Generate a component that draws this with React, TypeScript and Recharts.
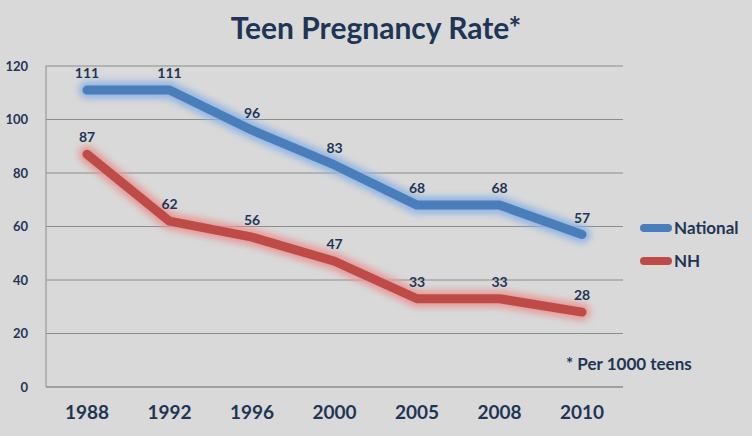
import React from 'react'
import { LineChart, Line, XAxis, YAxis, CartesianGrid, LabelList } from 'recharts'

const YEARS = ['1988', '1992', '1996', '2000', '2005', '2008', '2010']
const NATIONAL = [111, 111, 96, 83, 68, 68, 57]
const NH = [87, 62, 56, 47, 33, 33, 28]
const Y_TICKS = [0, 20, 40, 60, 80, 100, 120]

const data = YEARS.map((year, i) => ({ year, national: NATIONAL[i], nh: NH[i] }))

const FONT = 'Lato, "Open Sans", sans-serif'
const NAVY = '#1f3556'
const BLUE = '#4a7ebb'
const RED = '#be4b48'

function LegendItem({ color, label }: { color: string; label: string }) {
  return (
    <div style={{ display: 'flex', alignItems: 'center', height: 33 }}>
      <div style={{ width: 32, height: 8, borderRadius: 4, background: color, marginRight: 2 }} />
      <span style={{ fontSize: 17, fontWeight: 700, color: NAVY }}>{label}</span>
    </div>
  )
}

export default function App() {
  return (
    <div style={{ position: 'relative', width: 752, height: 436, background: '#d9d9d9', fontFamily: FONT }}>
      <style>{'body{margin:0}'}</style>
      <div
        style={{
          position: 'absolute',
          top: 9,
          width: 752,
          textAlign: 'center',
          fontSize: 30,
          fontWeight: 700,
          color: NAVY,
        }}
      >
        Teen Pregnancy Rate*
      </div>
      <LineChart width={752} height={436} data={data} margin={{ top: 66, right: 129, bottom: 19, left: 6 }}>
        <defs>
          <filter id="glow" x="-20%" y="-50%" width="140%" height="200%">
            <feGaussianBlur stdDeviation="3.5" />
          </filter>
        </defs>
        <CartesianGrid vertical={false} stroke="#8c8c8c" />
        <XAxis
          dataKey="year"
          height={30}
          padding={{ left: 41, right: 41 }}
          axisLine={{ stroke: '#8c8c8c' }}
          tickLine={false}
          tickMargin={13}
          tick={{ fill: NAVY, fontSize: 19, fontWeight: 700, fontFamily: FONT }}
        />
        <YAxis
          width={40}
          domain={[0, 120]}
          ticks={Y_TICKS}
          axisLine={{ stroke: '#8c8c8c' }}
          tickLine={false}
          tickMargin={12}
          tick={{ fill: NAVY, fontSize: 13, fontWeight: 700, fontFamily: FONT }}
        />
        <Line dataKey="national" stroke="#8fb4e3" strokeWidth={17} strokeLinecap="round" strokeLinejoin="round" filter="url(#glow)" dot={false} isAnimationActive={false} />
        <Line dataKey="nh" stroke="#e59a98" strokeWidth={17} strokeLinecap="round" strokeLinejoin="round" filter="url(#glow)" dot={false} isAnimationActive={false} />
        <Line dataKey="national" stroke={BLUE} strokeWidth={9} strokeLinecap="round" strokeLinejoin="round" dot={false} isAnimationActive={false}>
          <LabelList dataKey="national" position="top" offset={12} fill={NAVY} fontSize={14} fontWeight={700} fontFamily={FONT} />
        </Line>
        <Line dataKey="nh" stroke={RED} strokeWidth={9} strokeLinecap="round" strokeLinejoin="round" dot={false} isAnimationActive={false}>
          <LabelList dataKey="nh" position="top" offset={12} fill={NAVY} fontSize={14} fontWeight={700} fontFamily={FONT} />
        </Line>
      </LineChart>
      <div style={{ position: 'absolute', left: 566, top: 353, fontSize: 17, fontWeight: 700, color: NAVY }}>
        * Per 1000 teens
      </div>
      <div style={{ position: 'absolute', left: 640, top: 211 }}>
        <LegendItem color={BLUE} label="National" />
        <LegendItem color={RED} label="NH" />
      </div>
    </div>
  )
}
